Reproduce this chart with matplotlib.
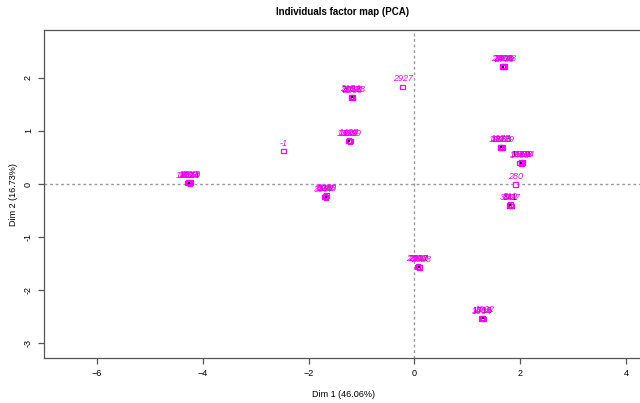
"""
individuals factor map (PCA) redrawn from the R output
"""
import matplotlib
matplotlib.use('Agg')
import matplotlib.pyplot as plt

plt.rcParams['font.family'] = ['Liberation Sans', 'DejaVu Sans']

# active individuals (black), one per group
act_x = [-4.26, -1.18, -1.23, -1.68, 1.68, 1.64, 2.02, 1.81, 0.08, 1.29]
act_y = [0.02, 1.63, 0.81, -0.24, 2.21, 0.69, 0.40, -0.40, -1.56, -2.53]
act_lab = ['1024', '2033', '129', '336', '2408', '1863', '1150', '341', '2207', '1716']

# supplementary individuals (magenta, italic)
sup_x = [-4.29, -4.27, -4.26, -4.24, -4.22,
         -1.20, -1.19, -1.17, -1.16,
         -1.25, -1.24, -1.22, -1.21,
         -1.70, -1.69, -1.67, -1.66,
         1.66, 1.67, 1.69, 1.70,
         1.62, 1.63, 1.65, 1.66,
         1.99, 2.01, 2.02, 2.04, 2.05,
         1.79, 1.81, 1.83,
         0.06, 0.07, 0.09, 0.10,
         1.27, 1.29, 1.31,
         -2.47, -0.22, 1.91]
sup_y = [0.02, 0.03, 0.02, 0.01, 0.03,
         1.63, 1.64, 1.62, 1.63,
         0.81, 0.82, 0.80, 0.81,
         -0.24, -0.23, -0.25, -0.22,
         2.21, 2.22, 2.20, 2.21,
         0.69, 0.70, 0.68, 0.69,
         0.40, 0.41, 0.39, 0.40, 0.41,
         -0.40, -0.39, -0.41,
         -1.56, -1.55, -1.57, -1.56,
         -2.53, -2.52, -2.54,
         0.62, 1.83, -0.01]
sup_lab = ['1187', '1302', '1419', '1533', '1648',
           '2091', '2154', '2266', '2378',
           '1311', '1427', '1589', '1693',
           '3122', '3245', '3367', '3480',
           '2511', '2623', '2739', '2848',
           '1901', '1977', '2039', '2110',
           '1240', '1355', '1468', '1572', '1684',
           '305', '319', '327',
           '2301', '2415', '2528', '2642',
           '1809', '1922', '1934',
           '-1', '2927', '280']

pink = '#ff00ff'
grey = '#555555'

fig = plt.figure(figsize=(6.4, 4.03), dpi=100)
# plotting region runs a little past the right edge of the picture, as in the original
ax = fig.add_axes([44 / 640, 1 - 358.3 / 403, 598 / 640, 328.3 / 403])

ax.axhline(0, color='#999999', lw=1.0, ls=(0, (2, 2)), zorder=1)
ax.axvline(0, color='#999999', lw=1.0, ls=(0, (2, 2)), zorder=1)

for x, y, t in zip(act_x, act_y, act_lab):
    ax.annotate(t, (x, y), xytext=(0, 2.5), textcoords='offset points',
                ha='center', va='bottom', fontsize=6.5, color='black', zorder=2)

ax.scatter(sup_x, sup_y, s=11, facecolors='none', edgecolors=pink,
           marker='s', linewidths=0.9, zorder=3)
# labels of one group pile up on each other, shift them a little sideways
for i, (x, y, t) in enumerate(zip(sup_x, sup_y, sup_lab)):
    dx = ((i % 3) - 1) * 1.3 if i < len(sup_lab) - 3 else 0
    ax.annotate(t, (x, y), xytext=(dx, 2.5), textcoords='offset points',
                ha='center', va='bottom', fontsize=6.5, color=pink,
                style='italic', zorder=3)

ax.scatter(act_x, act_y, s=2, c='black', marker='s', linewidths=0, zorder=4)

ax.set_xlim(-7.0, 4.30)
ax.set_ylim(-3.28, 2.90)
ax.set_xticks([-6, -4, -2, 0, 2, 4])
ax.set_yticks([-3, -2, -1, 0, 1, 2])
ax.set_yticklabels(['-3', '-2', '-1', '0', '1', '2'], rotation=90, va='center')

for side in ['left', 'bottom', 'top', 'right']:
    ax.spines[side].set_color(grey)
    ax.spines[side].set_linewidth(0.9)
ax.tick_params(direction='out', length=4, width=0.9, color=grey,
               labelsize=6.5, pad=4)

ax.set_title('Individuals factor map (PCA)', fontsize=7, weight='bold', pad=11)
ax.set_xlabel('Dim 1 (46.06%)', fontsize=6.5, labelpad=8)
ax.set_ylabel('Dim 2 (16.73%)', fontsize=6.5, labelpad=4)

fig.savefig('out.png', dpi=100)
